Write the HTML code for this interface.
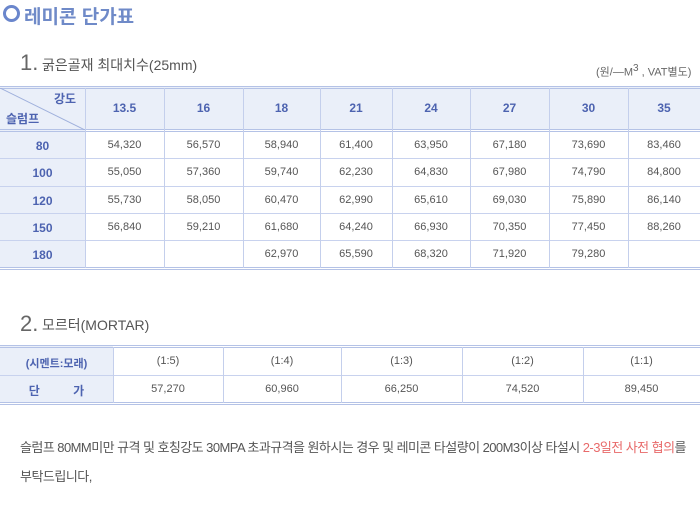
<!DOCTYPE html><html><head><meta charset="utf-8"><style>
body{margin:0;width:700px;height:510px;background:#fff;position:relative;overflow:hidden;font-family:"Liberation Sans","Noto Sans CJK KR",sans-serif}
.a{position:absolute}
.h{position:absolute;height:1px;background:#b4c2e6;left:0;width:700px}
.v{position:absolute;width:1px;background:#c4cfec}
.c{position:absolute;text-align:center;font-size:11px;color:#555}
.b{color:#4d63b0;font-weight:bold;font-size:12px}
</style></head><body>
<div class="a" style="left:3px;top:5px;width:11px;height:11px;border:3px solid #6a86cc;border-radius:50%"></div>
<div class="a" style="left:24px;top:2px;font-size:19px;font-weight:bold;color:#6f8ac8">레미콘 단가표</div>
<div class="a" style="left:20px;top:50px;font-size:22px;color:#666">1.</div>
<div class="a" style="left:42px;top:55px;font-size:14px;color:#555">굵은골재 최대치수(25mm)</div>
<div class="a" style="left:596px;top:63px;font-size:11px;color:#666;white-space:nowrap">(원/—M<sup style="font-size:10px">3</sup> , VAT별도)</div>
<div class="a" style="left:0;top:87px;width:700px;height:43px;background:#eaeff9"></div>
<div class="a" style="left:0;top:130px;width:85px;height:138px;background:#eaeff9"></div>
<div class="h" style="top:86px"></div><div class="h" style="top:88px"></div>
<div class="h" style="top:129px"></div><div class="h" style="top:131px"></div>
<div class="h" style="top:158px;background:#c8d2ee"></div><div class="h" style="top:186px;background:#c8d2ee"></div>
<div class="h" style="top:213px;background:#c8d2ee"></div><div class="h" style="top:240px;background:#c8d2ee"></div>
<div class="h" style="top:267px"></div><div class="h" style="top:269px"></div>
<svg class="a" style="left:0;top:88px" width="85" height="42"><line x1="0" y1="0" x2="85" y2="42" stroke="#9fb0dc"/></svg>
<div class="a b" style="left:54px;top:90px;font-size:12px">강도</div>
<div class="a b" style="left:6px;top:110px;font-size:12px">슬럼프</div>
<div class="v" style="left:85px;top:88px;height:180px"></div>
<div class="v" style="left:164px;top:88px;height:180px"></div>
<div class="v" style="left:243px;top:88px;height:180px"></div>
<div class="v" style="left:320px;top:88px;height:180px"></div>
<div class="v" style="left:392px;top:88px;height:180px"></div>
<div class="v" style="left:470px;top:88px;height:180px"></div>
<div class="v" style="left:549px;top:88px;height:180px"></div>
<div class="v" style="left:628px;top:88px;height:180px"></div>
<div id="t1"></div>
<div class="a" style="left:20px;top:311px;font-size:22px;color:#666">2.</div>
<div class="a" style="left:42px;top:315px;font-size:14px;color:#555">모르터(MORTAR)</div>
<div class="a" style="left:0;top:346px;width:113px;height:57px;background:#eaeff9"></div>
<div class="h" style="top:345px"></div><div class="h" style="top:347px"></div>
<div class="h" style="top:375px;background:#c8d2ee"></div>
<div class="h" style="top:402px"></div><div class="h" style="top:404px"></div>
<div class="v" style="left:113px;top:347px;height:56px"></div>
<div class="v" style="left:223px;top:347px;height:56px"></div>
<div class="v" style="left:341px;top:347px;height:56px"></div>
<div class="v" style="left:462px;top:347px;height:56px"></div>
<div class="v" style="left:583px;top:347px;height:56px"></div>
<div class="c b" style="left:0;width:113px;top:355px;font-size:11px">(시멘트:모래)</div>
<div class="c b" style="left:0;width:113px;top:382px;font-size:12px">단&nbsp;&nbsp;&nbsp;&nbsp;&nbsp;&nbsp;&nbsp;&nbsp;&nbsp;&nbsp;가</div>
<div class="c" style="left:113px;width:110px;top:355px">(1:5)</div>
<div class="c" style="left:223px;width:118px;top:355px">(1:4)</div>
<div class="c" style="left:341px;width:121px;top:355px">(1:3)</div>
<div class="c" style="left:462px;width:121px;top:355px">(1:2)</div>
<div class="c" style="left:583px;width:117px;top:355px">(1:1)</div>
<div class="c" style="left:113px;width:110px;top:383px">57,270</div>
<div class="c" style="left:223px;width:118px;top:383px">60,960</div>
<div class="c" style="left:341px;width:121px;top:383px">66,250</div>
<div class="c" style="left:462px;width:121px;top:383px">74,520</div>
<div class="c" style="left:583px;width:117px;top:383px">89,450</div>
<div class="a" style="left:20px;top:437px;font-size:13px;color:#555;white-space:nowrap;letter-spacing:-0.55px">슬럼프 80MM미만 규격 및 호칭강도 30MPA 초과규격을 원하시는 경우 및 레미콘 타설량이 200M3이상 타설시 <span style="color:#e86a6a">2-3일전 사전 협의</span>를</div>
<div class="a" style="left:20px;top:466px;font-size:13px;color:#555;letter-spacing:-0.5px">부탁드립니다,</div>
<script>
var xs=[0,85,164,243,320,392,470,549,628,700];
var heads=["13.5","16","18","21","24","27","30","35"];
var rows=[["80","54,320","56,570","58,940","61,400","63,950","67,180","73,690","83,460"],
["100","55,050","57,360","59,740","62,230","64,830","67,980","74,790","84,800"],
["120","55,730","58,050","60,470","62,990","65,610","69,030","75,890","86,140"],
["150","56,840","59,210","61,680","64,240","66,930","70,350","77,450","88,260"],
["180","","","62,970","65,590","68,320","71,920","79,280",""]];
var ys=[131,158,186,213,240,268];var h="";
for(var i=0;i<8;i++)h+='<div class="c b" style="left:'+xs[i+1]+'px;width:'+(xs[i+2]-xs[i+1])+'px;top:101px">'+heads[i]+'</div>';
for(var r=0;r<5;r++)for(var j=0;j<9;j++){var t=(ys[r]+ys[r+1])/2-6;
h+='<div class="c'+(j==0?' b':'')+'" style="left:'+xs[j]+'px;width:'+(xs[j+1]-xs[j])+'px;top:'+t+'px">'+rows[r][j]+'</div>';}
document.getElementById('t1').innerHTML=h;
</script>
</body></html>
